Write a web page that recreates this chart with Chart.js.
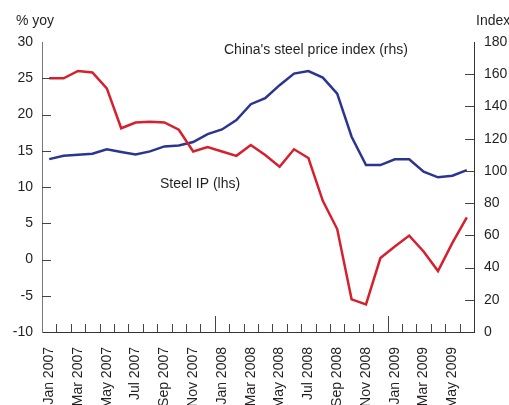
<!DOCTYPE html>
<html>
<head>
<meta charset="utf-8">
<script src="https://cdn.jsdelivr.net/npm/chart.js@4"></script>
<style>
	body { margin: 0; background: #fff; }
	#wrap { width: 509px; height: 405px; }
</style>
</head>
<body>
<div id="wrap"><canvas id="steel-chart" width="509" height="405"></canvas></div>
<script>
const months = [
	'Jan 2007', 'Feb 2007', 'Mar 2007', 'Apr 2007', 'May 2007', 'Jun 2007',
	'Jul 2007', 'Aug 2007', 'Sep 2007', 'Oct 2007', 'Nov 2007', 'Dec 2007',
	'Jan 2008', 'Feb 2008', 'Mar 2008', 'Apr 2008', 'May 2008', 'Jun 2008',
	'Jul 2008', 'Aug 2008', 'Sep 2008', 'Oct 2008', 'Nov 2008', 'Dec 2008',
	'Jan 2009', 'Feb 2009', 'Mar 2009', 'Apr 2009', 'May 2009', 'Jun 2009',
];
// % yoy, left axis
const steelIP = [
	25.0, 25.0, 26.0, 25.8, 23.6, 18.1, 18.9, 19.0, 18.9, 17.9, 14.9, 15.5,
	14.9, 14.3, 15.8, 14.4, 12.8, 15.2, 14.0, 8.1, 4.2, -5.5, -6.2, 0.2,
	1.8, 3.3, 1.1, -1.6, 2.3, 5.8,
];
// index, right axis
const steelPrice = [
	107.3, 109.4, 110.0, 110.6, 113.4, 111.7, 110.2, 112.1, 115.2, 115.8, 117.9, 122.8,
	125.7, 131.5, 141.4, 145.1, 153.2, 160.4, 162.0, 157.9, 148.0, 121.2, 103.6, 103.6,
	107.2, 107.2, 99.5, 96.0, 97.0, 100.5,
];
const leftRange = [-10, 30, 5];
const rightRange = [0, 180, 20];

const textColor = '#231f20';
const font = { family: "'Liberation Sans', Arial, sans-serif", size: 14 };

// tick marks pointing into the plot, plus the text labels
const innerTicks = {
	id: 'innerTicks',
	afterDraw(chart) {
		const { ctx, chartArea, scales } = chart;
		ctx.save();
		ctx.lineWidth = 1;
		ctx.strokeStyle = '#444';
		ctx.beginPath();
		scales.y.ticks.slice(1, -1).forEach((t) => {
			const y = Math.round(scales.y.getPixelForValue(t.value)) + 0.5;
			ctx.moveTo(chartArea.left, y);
			ctx.lineTo(chartArea.left + 9, y);
		});
		scales.y1.ticks.slice(1, -1).forEach((t) => {
			const y = Math.round(scales.y1.getPixelForValue(t.value)) + 0.5;
			ctx.moveTo(chartArea.right, y);
			ctx.lineTo(chartArea.right - 9, y);
		});
		for (let i = 1; i < months.length; i++) {
			const x = Math.round((scales.x.getPixelForValue(i - 1) + scales.x.getPixelForValue(i)) / 2) + 0.5;
			const len = months[i].startsWith('Jan') ? 16 : 8;
			ctx.moveTo(x, chartArea.bottom);
			ctx.lineTo(x, chartArea.bottom - len);
		}
		ctx.stroke();

		ctx.fillStyle = textColor;
		ctx.font = `${font.size}px ${font.family}`;
		ctx.textBaseline = 'middle';
		ctx.textAlign = 'left';
		ctx.fillText('% yoy', 16, 21);
		ctx.fillText('Index', 476, 21);
		ctx.fillText("China's steel price index (rhs)", 224, 50);
		ctx.fillText('Steel IP (lhs)', 160, 184);
		ctx.restore();
	},
};

new Chart(document.getElementById('steel-chart'), {
	type: 'line',
	data: {
		labels: months,
		datasets: [
			{
				label: 'Steel IP (lhs)',
				data: steelIP,
				yAxisID: 'y',
				borderColor: '#d5202e',
				borderWidth: 2.5,
				pointRadius: 0,
				tension: 0,
			},
			{
				label: "China's steel price index (rhs)",
				data: steelPrice,
				yAxisID: 'y1',
				borderColor: '#2b3590',
				borderWidth: 2.5,
				pointRadius: 0,
				tension: 0,
			},
		],
	},
	options: {
		responsive: false,
		animation: false,
		layout: { padding: { top: 42, left: 0, right: 0, bottom: 0 } },
		plugins: {
			legend: { display: false },
			tooltip: { enabled: false },
		},
		scales: {
			x: {
				offset: true,
				grid: { display: false, drawTicks: false },
				border: { display: true, color: '#333', width: 1 },
				ticks: {
					autoSkip: false,
					maxRotation: 90,
					minRotation: 90,
					padding: 15,
					color: textColor,
					font,
					callback: (v, i) => (i % 2 === 0 ? months[i] : ''),
				},
				afterFit: (scale) => { scale.height = 73; },
			},
			y: {
				position: 'left',
				min: leftRange[0],
				max: leftRange[1],
				grid: { display: false, drawTicks: false },
				border: { display: true, color: '#777', width: 1 },
				ticks: { stepSize: leftRange[2], padding: 9, color: textColor, font },
				afterFit: (scale) => { scale.width = 42; },
			},
			y1: {
				position: 'right',
				min: rightRange[0],
				max: rightRange[1],
				grid: { display: false, drawTicks: false },
				border: { display: true, color: '#333', width: 1 },
				ticks: { stepSize: rightRange[2], padding: 10, color: textColor, font },
				afterFit: (scale) => { scale.width = 35; },
			},
		},
	},
	plugins: [innerTicks],
});
</script>
</body>
</html>
